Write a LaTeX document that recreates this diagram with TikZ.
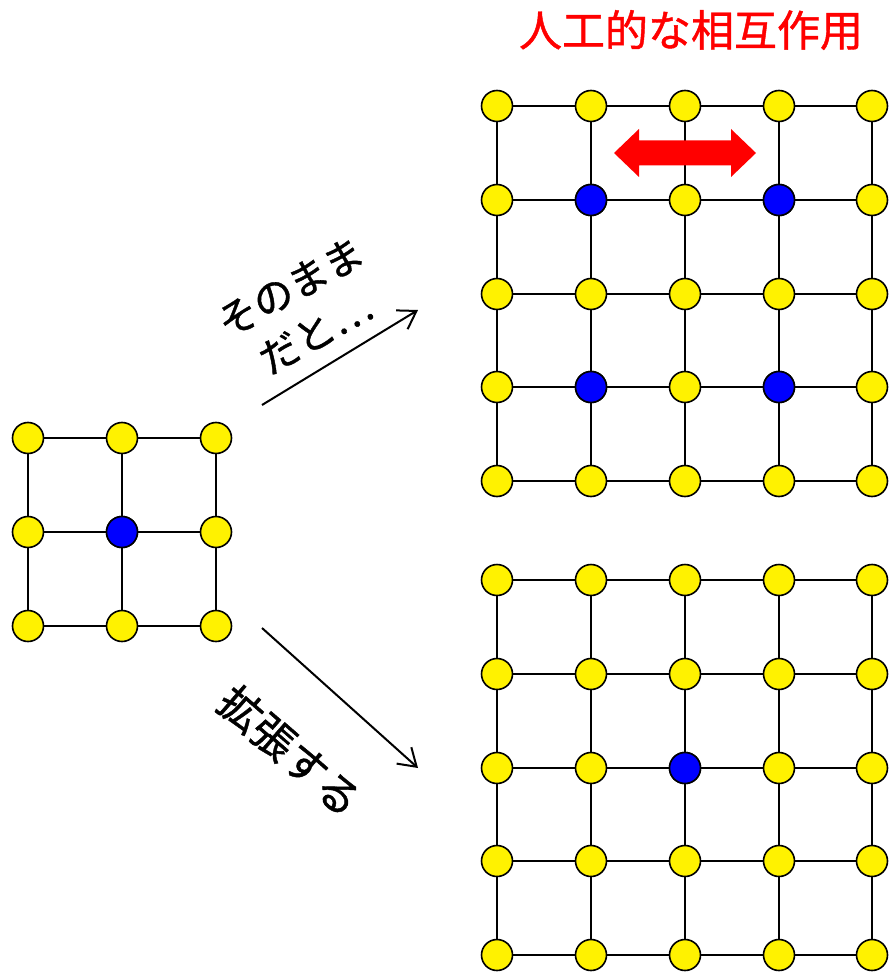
\documentclass[tikz,border=0pt]{standalone}
\usepackage{fontspec}
\newfontfamily\jp[FakeBold=1]{Noto Sans CJK JP}
\usetikzlibrary{arrows.meta}
\begin{document}
\begin{tikzpicture}[x=1pt,y=-1pt,
  site/.style={circle,draw=black,line width=1.6pt,fill=yellow,minimum size=31pt,inner sep=0pt},
  qsite/.style={site,fill=blue},
  bond/.style={line width=2pt},
  flow/.style={line width=2pt,-{Straight Barb[length=17pt,width=22pt,line width=2pt]}},
  label/.style={font=\jp\fontsize{40}{52}\selectfont,align=center,inner sep=0pt}]
\useasboundingbox (0,0) rectangle (888,973);
% small grid
\foreach \i/\x in {1/28,2/122,3/216}{\foreach \j/\y in {1/438,2/532,3/626}{\node[site] (s-\i-\j) at (\x,\y) {};}}
\node[qsite] (s-2-2) at (122,532) {};
\foreach \i in {1,2,3}{\foreach \j [evaluate=\j as \k using int(\j+1)] in {1,2}{
  \draw[bond] (s-\i-\j) -- (s-\i-\k); \draw[bond] (s-\j-\i) -- (s-\k-\i);}}
% top grid
\foreach \i/\x in {1/497,2/591,3/685,4/779,5/872}{\foreach \j/\y in {1/106,2/200,3/294,4/387,5/481}{\node[site] (a-\i-\j) at (\x,\y) {};}}
\node[qsite] (a-2-2) at (591,200) {};
\node[qsite] (a-4-2) at (779,200) {};
\node[qsite] (a-2-4) at (591,387) {};
\node[qsite] (a-4-4) at (779,387) {};
\foreach \i in {1,...,5}{\foreach \j [evaluate=\j as \k using int(\j+1)] in {1,...,4}{
  \draw[bond] (a-\i-\j) -- (a-\i-\k); \draw[bond] (a-\j-\i) -- (a-\k-\i);}}
% bottom grid
\foreach \i/\x in {1/497,2/591,3/685,4/779,5/872}{\foreach \j/\y in {1/580,2/674,3/768,4/861,5/955}{\node[site] (b-\i-\j) at (\x,\y) {};}}
\node[qsite] (b-3-3) at (685,768) {};
\foreach \i in {1,...,5}{\foreach \j [evaluate=\j as \k using int(\j+1)] in {1,...,4}{
  \draw[bond] (b-\i-\j) -- (b-\i-\k); \draw[bond] (b-\j-\i) -- (b-\k-\i);}}
% red interaction arrow
\fill[red] (614,153) -- (639,129) -- (639,140.5) -- (731,140.5) -- (731,129) -- (756,153)
  -- (731,177) -- (731,165.5) -- (639,165.5) -- (639,177) -- cycle;
% title
\node[font=\jp\fontsize{43}{50}\selectfont,text=red,inner sep=0pt] (title) at (691,30) {人工的な相互作用};
% flow arrows
\coordinate (u0) at (262,405); \coordinate (u1) at (418,310);
\coordinate (d0) at (262,628); \coordinate (d1) at (418,768);
\draw[flow] (u0) -- (u1);
\draw[flow] (d0) -- (d1);
\node[label,rotate=29] (t1) at (303,310) {そのまま\\だと…};
\node[label,rotate=-41,font=\jp\fontsize{43}{52}\selectfont] (t2) at (290,751) {拡張する};
\end{tikzpicture}
\end{document}
